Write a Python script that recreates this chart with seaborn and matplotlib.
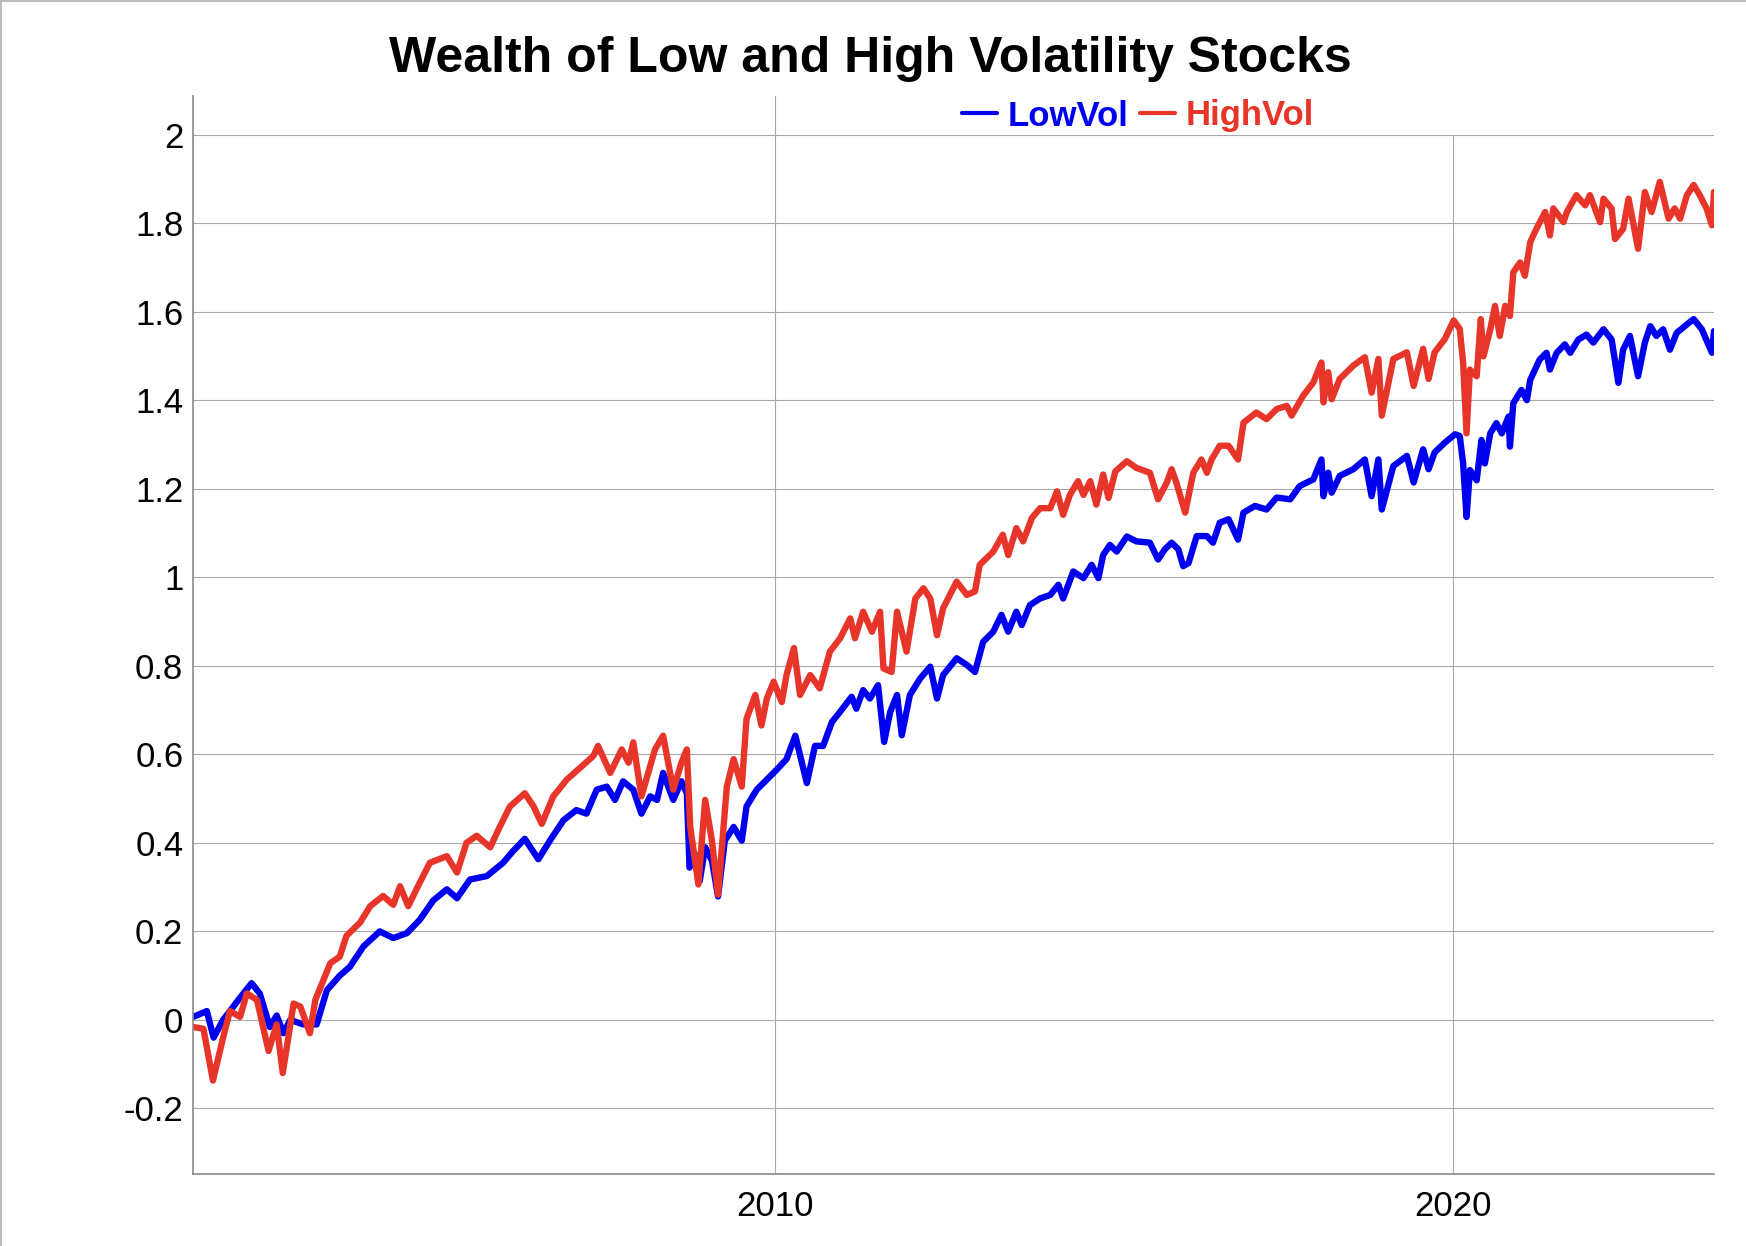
import numpy as np
import pandas as pd
import matplotlib
matplotlib.use("Agg")
import matplotlib.pyplot as plt
import seaborn as sns
from matplotlib.lines import Line2D
from matplotlib.patches import Rectangle

# wealth curves (decimal year, cumulative return)
low_years = [
    2001.42, 2001.62, 2001.72, 2001.86, 2002.01, 2002.16, 2002.28, 2002.40, 2002.55, 2002.65,
    2002.75, 2002.85, 2003.04, 2003.24, 2003.39, 2003.58, 2003.73, 2003.93, 2004.17, 2004.37,
    2004.57, 2004.76, 2004.96, 2005.16, 2005.31, 2005.50, 2005.75, 2005.99, 2006.14, 2006.31,
    2006.51, 2006.68, 2006.88, 2007.07, 2007.22, 2007.37, 2007.52, 2007.64, 2007.76, 2007.91,
    2008.03, 2008.16, 2008.26, 2008.35, 2008.50, 2008.62, 2008.70, 2008.74, 2008.82, 2008.89,
    2008.97, 2009.07, 2009.16, 2009.26, 2009.39, 2009.51, 2009.58, 2009.73, 2009.88, 2010.03,
    2010.17, 2010.30, 2010.47, 2010.59, 2010.71, 2010.84, 2010.96, 2011.13, 2011.20, 2011.30,
    2011.40, 2011.52, 2011.61, 2011.70, 2011.80, 2011.87, 2011.99, 2012.14, 2012.29, 2012.39,
    2012.48, 2012.68, 2012.83, 2012.95, 2013.07, 2013.22, 2013.34, 2013.44, 2013.56, 2013.64,
    2013.76, 2013.91, 2014.06, 2014.18, 2014.25, 2014.40, 2014.55, 2014.67, 2014.77, 2014.84,
    2014.94, 2015.04, 2015.19, 2015.33, 2015.53, 2015.65, 2015.75, 2015.85, 2015.95, 2016.02,
    2016.10, 2016.22, 2016.37, 2016.46, 2016.56, 2016.69, 2016.83, 2016.91, 2017.08, 2017.25,
    2017.40, 2017.60, 2017.74, 2017.94, 2018.06, 2018.09, 2018.16, 2018.21, 2018.33, 2018.53,
    2018.70, 2018.80, 2018.90, 2018.95, 2019.12, 2019.32, 2019.42, 2019.56, 2019.64, 2019.73,
    2019.88, 2020.03, 2020.10, 2020.15, 2020.20, 2020.25, 2020.35, 2020.42, 2020.47, 2020.55,
    2020.64, 2020.72, 2020.82, 2020.84, 2020.89, 2021.01, 2021.09, 2021.14, 2021.28, 2021.38,
    2021.43, 2021.53, 2021.65, 2021.73, 2021.85, 2021.97, 2022.07, 2022.22, 2022.34, 2022.44,
    2022.51, 2022.61, 2022.73, 2022.83, 2022.91, 2023.00, 2023.10, 2023.20, 2023.30, 2023.45,
    2023.55, 2023.67, 2023.82, 2023.85,
]
low_vals = [
    0.007, 0.020, -0.040, 0.000, 0.030, 0.060, 0.083, 0.060, -0.016, 0.010,
    -0.030, 0.000, -0.010, -0.010, 0.067, 0.100, 0.120, 0.166, 0.200, 0.185,
    0.196, 0.226, 0.270, 0.295, 0.275, 0.317, 0.325, 0.355, 0.382, 0.409,
    0.363, 0.405, 0.451, 0.474, 0.466, 0.520, 0.527, 0.497, 0.539, 0.520,
    0.466, 0.505, 0.497, 0.558, 0.497, 0.539, 0.512, 0.344, 0.375, 0.314,
    0.390, 0.360, 0.279, 0.405, 0.436, 0.405, 0.482, 0.520, 0.543, 0.566,
    0.589, 0.642, 0.535, 0.619, 0.619, 0.673, 0.696, 0.730, 0.703, 0.745,
    0.726, 0.756, 0.628, 0.696, 0.734, 0.643, 0.734, 0.771, 0.798, 0.726,
    0.779, 0.817, 0.802, 0.786, 0.854, 0.877, 0.915, 0.877, 0.922, 0.892,
    0.937, 0.952, 0.960, 0.983, 0.952, 1.013, 0.998, 1.028, 0.998, 1.050,
    1.073, 1.058, 1.092, 1.081, 1.078, 1.040, 1.063, 1.078, 1.063, 1.025,
    1.032, 1.093, 1.093, 1.078, 1.123, 1.131, 1.085, 1.146, 1.161, 1.153,
    1.180, 1.176, 1.206, 1.221, 1.266, 1.183, 1.236, 1.191, 1.229, 1.244,
    1.266, 1.183, 1.266, 1.153, 1.251, 1.274, 1.214, 1.289, 1.244, 1.282,
    1.304, 1.323, 1.319, 1.257, 1.136, 1.242, 1.219, 1.310, 1.257, 1.325,
    1.348, 1.325, 1.363, 1.295, 1.393, 1.423, 1.400, 1.446, 1.492, 1.507,
    1.469, 1.507, 1.526, 1.507, 1.537, 1.548, 1.530, 1.560, 1.537, 1.439,
    1.514, 1.545, 1.454, 1.530, 1.567, 1.545, 1.560, 1.514, 1.552, 1.571,
    1.583, 1.560, 1.507, 1.556,
]

high_years = [
    2001.42, 2001.57, 2001.71, 2001.86, 2001.96, 2002.11, 2002.21, 2002.36, 2002.53, 2002.65,
    2002.74, 2002.90, 2003.00, 2003.14, 2003.22, 2003.34, 2003.44, 2003.58, 2003.68, 2003.88,
    2004.03, 2004.22, 2004.37, 2004.47, 2004.59, 2004.76, 2004.91, 2005.16, 2005.31, 2005.45,
    2005.60, 2005.80, 2005.94, 2006.09, 2006.31, 2006.44, 2006.56, 2006.73, 2006.93, 2007.15,
    2007.32, 2007.39, 2007.57, 2007.74, 2007.84, 2007.91, 2008.03, 2008.13, 2008.23, 2008.35,
    2008.50, 2008.62, 2008.70, 2008.75, 2008.87, 2008.97, 2009.07, 2009.16, 2009.29, 2009.39,
    2009.51, 2009.58, 2009.71, 2009.80, 2009.88, 2009.98, 2010.10, 2010.17, 2010.28, 2010.37,
    2010.52, 2010.66, 2010.81, 2010.96, 2011.11, 2011.18, 2011.30, 2011.43, 2011.55, 2011.60,
    2011.72, 2011.80, 2011.94, 2012.07, 2012.19, 2012.29, 2012.39, 2012.48, 2012.68, 2012.83,
    2012.95, 2013.02, 2013.22, 2013.36, 2013.44, 2013.56, 2013.66, 2013.79, 2013.91, 2014.06,
    2014.16, 2014.25, 2014.35, 2014.47, 2014.55, 2014.65, 2014.74, 2014.84, 2014.92, 2015.02,
    2015.19, 2015.33, 2015.53, 2015.65, 2015.78, 2015.85, 2015.92, 2016.05, 2016.17, 2016.29,
    2016.37, 2016.44, 2016.56, 2016.69, 2016.83, 2016.91, 2017.10, 2017.25, 2017.40, 2017.55,
    2017.62, 2017.79, 2017.94, 2018.06, 2018.09, 2018.16, 2018.21, 2018.33, 2018.53, 2018.70,
    2018.80, 2018.90, 2018.95, 2019.12, 2019.32, 2019.42, 2019.56, 2019.64, 2019.73, 2019.88,
    2020.01, 2020.10, 2020.15, 2020.20, 2020.25, 2020.35, 2020.41, 2020.45, 2020.55, 2020.62,
    2020.69, 2020.77, 2020.84, 2020.89, 2020.99, 2021.06, 2021.14, 2021.23, 2021.36, 2021.43,
    2021.48, 2021.63, 2021.68, 2021.82, 2021.95, 2022.02, 2022.17, 2022.22, 2022.34, 2022.39,
    2022.51, 2022.59, 2022.73, 2022.83, 2022.93, 2023.05, 2023.18, 2023.27, 2023.35, 2023.45,
    2023.55, 2023.64, 2023.74, 2023.82, 2023.85,
]
high_vals = [
    -0.016, -0.020, -0.137, -0.040, 0.020, 0.007, 0.060, 0.045, -0.070, -0.010,
    -0.120, 0.037, 0.030, -0.030, 0.045, 0.090, 0.128, 0.143, 0.190, 0.220,
    0.257, 0.280, 0.260, 0.302, 0.257, 0.310, 0.355, 0.370, 0.333, 0.400,
    0.416, 0.390, 0.436, 0.482, 0.512, 0.482, 0.443, 0.505, 0.543, 0.573,
    0.596, 0.619, 0.558, 0.611, 0.581, 0.627, 0.505, 0.558, 0.611, 0.642,
    0.520, 0.581, 0.611, 0.436, 0.306, 0.497, 0.405, 0.283, 0.527, 0.589,
    0.527, 0.680, 0.734, 0.665, 0.726, 0.764, 0.718, 0.779, 0.840, 0.734,
    0.779, 0.749, 0.832, 0.862, 0.907, 0.862, 0.922, 0.877, 0.922, 0.794,
    0.786, 0.922, 0.832, 0.952, 0.975, 0.952, 0.869, 0.930, 0.990, 0.960,
    0.968, 1.028, 1.058, 1.096, 1.050, 1.111, 1.081, 1.134, 1.156, 1.156,
    1.194, 1.141, 1.186, 1.217, 1.186, 1.217, 1.164, 1.232, 1.179, 1.239,
    1.262, 1.247, 1.236, 1.176, 1.214, 1.244, 1.214, 1.146, 1.236, 1.266,
    1.236, 1.266, 1.297, 1.297, 1.266, 1.349, 1.372, 1.357, 1.380, 1.387,
    1.365, 1.410, 1.440, 1.485, 1.395, 1.463, 1.402, 1.448, 1.478, 1.497,
    1.417, 1.493, 1.365, 1.493, 1.508, 1.432, 1.516, 1.448, 1.508, 1.538,
    1.580, 1.561, 1.484, 1.325, 1.469, 1.454, 1.583, 1.499, 1.560, 1.613,
    1.545, 1.613, 1.590, 1.689, 1.711, 1.681, 1.757, 1.787, 1.825, 1.772,
    1.833, 1.802, 1.825, 1.863, 1.840, 1.863, 1.802, 1.855, 1.833, 1.764,
    1.787, 1.855, 1.742, 1.870, 1.825, 1.893, 1.810, 1.833, 1.810, 1.863,
    1.886, 1.863, 1.833, 1.795, 1.870,
]

series_names = ["LowVol", "HighVol"]
series_colors = ["#0000F0", "#E8352A"]
y_ticks = [-0.2, 0, 0.2, 0.4, 0.6, 0.8, 1, 1.2, 1.4, 1.6, 1.8, 2]
x_ticks = [2010, 2020]

df = pd.concat([
    pd.DataFrame({"year": low_years, "wealth": low_vals, "series": "LowVol"}),
    pd.DataFrame({"year": high_years, "wealth": high_vals, "series": "HighVol"}),
], ignore_index=True)

sns.set_theme(style="whitegrid")
plt.rcParams["font.family"] = ["Liberation Sans", "DejaVu Sans"]

fig = plt.figure(figsize=(17.46, 12.46), dpi=100)
ax = fig.add_axes([193 / 1746, 1 - 1174 / 1246, (1714 - 193) / 1746, (1174 - 96) / 1246])

sns.lineplot(data=df, x="year", y="wealth", hue="series", hue_order=series_names,
             palette=dict(zip(series_names, series_colors)), estimator=None,
             linewidth=4.6, legend=False, ax=ax)

ax.set_xlim(2001.416, 2023.85)
ax.set_ylim(-0.348, 2.087)
ax.set_xticks(x_ticks)
ax.set_xticklabels([str(t) for t in x_ticks])
ax.set_yticks(y_ticks)
ax.set_yticklabels([f"{t:g}" for t in y_ticks])
ax.set_xlabel("")
ax.set_ylabel("")
ax.tick_params(axis="both", length=0, labelsize=25, colors="black")
ax.tick_params(axis="x", pad=11.5)
ax.tick_params(axis="y", pad=7)
ax.grid(True, color="#a8a8a8", linewidth=0.8)
ax.set_facecolor("white")
for side in ["top", "right"]:
    ax.spines[side].set_visible(False)
for side in ["left", "bottom"]:
    ax.spines[side].set_color("#8a8a8a")
    ax.spines[side].set_linewidth(1.2)

# white band behind the legend hides the grid there
ax.add_patch(Rectangle((0.5056, 0.9634), 0.4944, 0.0366, transform=ax.transAxes,
                       facecolor="white", edgecolor="none", zorder=1))

handles = [Line2D([0], [0], color=c, linewidth=3) for c in series_colors]
leg = fig.legend(handles, series_names, loc="center left",
                 bbox_to_anchor=(962 / 1746, 1 - 116 / 1246), ncol=2, frameon=False,
                 handlelength=1.0, handletextpad=0.32, columnspacing=0.32,
                 borderpad=0, borderaxespad=0, prop={"size": 25, "weight": "bold"})
for txt, c in zip(leg.get_texts(), series_colors):
    txt.set_color(c)

fig.text(870 / 1746, 1 - 72 / 1246, "Wealth of Low and High Volatility Stocks",
         ha="center", va="baseline", fontsize=36, fontweight="bold", color="black")

# thin frame on the left and top edge of the picture
fig.add_artist(Line2D([0.0006, 0.0006], [0, 1], transform=fig.transFigure, color="#bdbdbd", linewidth=1.5))
fig.add_artist(Line2D([0, 1], [0.9995, 0.9995], transform=fig.transFigure, color="#bdbdbd", linewidth=1.5))

fig.savefig("out.png", dpi=100)
